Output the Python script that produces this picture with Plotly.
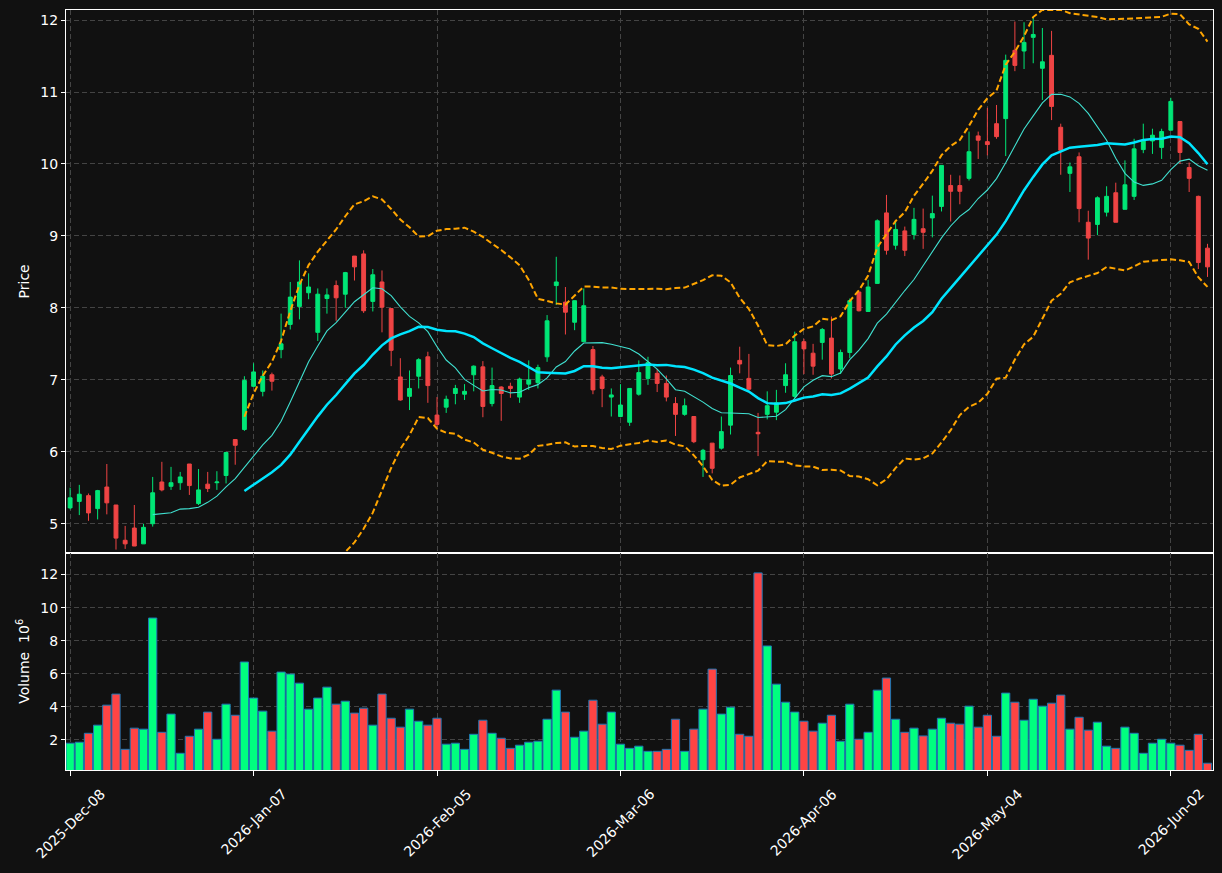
import pandas as pd
import plotly.graph_objects as go
from plotly.subplots import make_subplots

# ---------------- data ----------------
HOLIDAYS = ["2025-12-25", "2026-01-01", "2026-01-19", "2026-02-16", "2026-04-03", "2026-05-25"]
DATES = pd.bdate_range("2025-12-08", periods=125, freq="C", holidays=HOLIDAYS).strftime("%Y-%m-%d").tolist()

OPEN = [5.22, 5.31, 5.39, 5.21, 5.51, 5.26, 4.77, 4.94, 4.72, 5.00,
        5.58, 5.52, 5.57, 5.83, 5.28, 5.55, 5.57, 5.67, 6.17, 6.31,
        6.91, 6.84, 7.07, 7.42, 7.77, 8.02, 8.21, 7.66, 8.13, 8.31,
        8.19, 8.72, 8.75, 8.09, 8.36, 7.99, 7.04, 6.77, 7.05, 7.32,
        6.51, 6.62, 6.81, 6.80, 7.07, 7.18, 6.67, 6.90, 6.91, 6.76,
        6.94, 6.96, 7.32, 8.31, 8.08, 7.80, 7.53, 7.42, 7.04, 6.76,
        6.49, 6.41, 6.80, 7.02, 7.09, 6.95, 6.67, 6.52, 6.49, 5.89,
        6.12, 6.05, 6.37, 7.27, 7.02, 6.27, 6.52, 6.55, 6.92, 6.77,
        7.53, 7.37, 7.52, 7.58, 7.15, 7.38, 8.22, 7.95, 8.34, 9.32,
        8.87, 9.07, 9.02, 9.10, 9.25, 9.41, 9.70, 9.70, 9.80, 10.39,
        10.31, 10.56, 10.63, 11.58, 11.57, 11.76, 11.33, 11.51, 10.51, 9.87,
        10.10, 9.19, 9.16, 9.33, 9.60, 9.37, 9.55, 10.20, 10.32, 10.23,
        10.47, 10.59, 9.95, 9.55, 8.83]
HIGH = [5.50, 5.54, 5.42, 5.47, 5.83, 5.26, 4.97, 5.26, 5.00, 5.65,
        5.86, 5.79, 5.72, 5.83, 5.76, 5.72, 5.73, 6.00, 6.17, 7.05,
        7.23, 7.13, 7.10, 7.92, 8.36, 8.66, 8.48, 8.27, 8.27, 8.38,
        8.50, 8.72, 8.80, 8.54, 8.52, 7.99, 7.30, 7.13, 7.30, 7.39,
        6.76, 6.78, 6.93, 6.94, 7.20, 7.26, 7.17, 6.91, 6.96, 7.03,
        7.27, 7.21, 7.90, 8.71, 8.29, 8.10, 8.27, 7.47, 7.07, 6.88,
        6.94, 6.88, 7.27, 7.32, 7.15, 7.06, 6.76, 6.74, 6.49, 6.04,
        6.12, 6.49, 7.17, 7.46, 7.36, 6.54, 6.84, 6.86, 7.23, 7.67,
        7.57, 7.50, 7.72, 7.88, 7.42, 8.13, 8.22, 8.39, 9.23, 9.57,
        9.22, 9.13, 9.39, 9.38, 9.56, 9.98, 9.85, 9.84, 10.45, 10.45,
        10.78, 10.82, 11.52, 11.98, 11.97, 12.05, 11.89, 11.85, 10.56, 10.02,
        10.16, 9.35, 9.55, 9.69, 9.74, 10.05, 10.35, 10.56, 10.49, 10.49,
        10.92, 10.59, 10.02, 9.56, 8.89]
LOW = [5.20, 5.12, 5.04, 5.06, 5.13, 4.64, 4.65, 4.69, 4.72, 4.96,
       5.45, 5.47, 5.47, 5.40, 5.26, 5.44, 5.47, 5.56, 5.82, 6.29,
       6.90, 6.77, 6.85, 7.30, 7.70, 7.84, 8.12, 7.54, 7.92, 7.82,
       8.00, 8.38, 7.93, 7.95, 7.66, 7.19, 6.71, 6.58, 6.88, 6.68,
       6.34, 6.54, 6.66, 6.72, 6.84, 6.48, 6.63, 6.43, 6.75, 6.68,
       6.86, 6.88, 7.25, 8.04, 7.63, 7.69, 7.53, 6.80, 6.62, 6.49,
       6.48, 6.36, 6.78, 6.93, 6.83, 6.70, 6.22, 6.50, 6.12, 5.65,
       5.70, 6.03, 6.24, 7.09, 6.85, 5.94, 6.45, 6.44, 6.82, 6.75,
       7.08, 7.07, 7.28, 7.02, 7.08, 7.30, 7.95, 7.95, 8.34, 8.74,
       8.81, 8.72, 8.95, 8.82, 8.98, 9.34, 9.20, 9.44, 9.77, 10.07,
       10.12, 10.35, 10.11, 11.29, 11.32, 11.40, 10.89, 10.61, 9.85, 9.61,
       9.19, 8.67, 9.01, 9.27, 9.19, 9.37, 9.50, 10.15, 10.14, 10.07,
       10.47, 10.00, 9.61, 8.54, 8.43]
CLOSE = [5.36, 5.41, 5.15, 5.46, 5.29, 4.80, 4.72, 4.69, 4.95, 5.43,
         5.47, 5.57, 5.65, 5.53, 5.47, 5.49, 5.58, 5.99, 6.09, 6.99,
         7.11, 7.05, 6.98, 7.50, 8.15, 8.36, 8.29, 8.19, 8.18, 8.14,
         8.49, 8.57, 7.96, 8.46, 8.01, 7.41, 6.72, 6.88, 7.28, 6.92,
         6.38, 6.73, 6.88, 6.84, 7.19, 6.63, 6.92, 6.81, 6.88, 7.01,
         7.00, 7.17, 7.82, 8.36, 7.94, 8.10, 8.03, 6.86, 6.88, 6.79,
         6.65, 6.88, 7.10, 7.24, 6.95, 6.76, 6.52, 6.64, 6.14, 6.02,
         5.77, 6.28, 7.06, 7.22, 6.87, 6.25, 6.64, 6.68, 7.07, 7.53,
         7.43, 7.19, 7.70, 7.08, 7.38, 8.10, 7.96, 8.29, 9.21, 8.80,
         9.09, 8.80, 9.23, 9.05, 9.31, 9.98, 9.62, 9.62, 10.17, 10.33,
         10.27, 10.38, 11.44, 11.37, 11.69, 11.80, 11.42, 10.80, 10.19, 9.96,
         9.38, 8.97, 9.53, 9.55, 9.19, 9.71, 10.21, 10.33, 10.40, 10.45,
         10.87, 10.16, 9.80, 8.63, 8.57]
VOLUME = [1.80, 1.86, 2.40, 2.89, 4.10, 4.77, 1.43, 2.71, 2.65, 9.37,
          2.46, 3.56, 1.19, 2.22, 2.65, 3.68, 2.04, 4.16, 3.49, 6.71,
          4.53, 3.74, 2.53, 6.10, 5.98, 5.43, 3.86, 4.53, 5.19, 4.16,
          4.34, 3.62, 3.92, 2.89, 4.77, 3.31, 2.77, 3.86, 3.13, 2.89,
          3.31, 1.74, 1.80, 1.43, 2.34, 3.19, 2.40, 2.10, 1.49, 1.68,
          1.86, 1.92, 3.25, 5.01, 3.68, 2.16, 2.53, 4.40, 2.95, 3.68,
          1.74, 1.49, 1.62, 1.31, 1.31, 1.43, 3.25, 1.31, 2.65, 3.86,
          6.28, 3.56, 3.98, 2.34, 2.22, 12.10, 7.68, 5.37, 4.28, 3.68,
          3.13, 2.53, 3.01, 3.49, 1.92, 4.16, 2.04, 2.46, 5.01, 5.74,
          3.25, 2.46, 2.71, 2.24, 2.65, 3.31, 3.01, 2.95, 4.04, 2.77,
          3.49, 2.22, 4.83, 4.28, 3.19, 4.46, 4.04, 4.22, 4.71, 2.65,
          3.37, 2.59, 3.07, 1.62, 1.49, 2.77, 2.40, 1.19, 1.80, 2.04,
          1.80, 1.68, 1.37, 2.34, 0.59]

TICK_DATES = ["2025-12-08", "2026-01-07", "2026-02-05", "2026-03-06", "2026-04-06", "2026-05-04", "2026-06-02"]
TICK_LABELS = ["2025-Dec-08", "2026-Jan-07", "2026-Feb-05", "2026-Mar-06", "2026-Apr-06", "2026-May-04", "2026-Jun-02"]
PRICE_TICKS = [5, 6, 7, 8, 9, 10, 11, 12]
VOL_TICKS = [2, 4, 6, 8, 10, 12]

# ---------------- derived indicators ----------------
close_s = pd.Series(CLOSE)
ma10 = close_s.rolling(10).mean()
ma20 = close_s.rolling(20).mean()
std20 = close_s.rolling(20).std()
upper = ma20 + 2 * std20
lower = ma20 - 2 * std20

# ---------------- styles ----------------
BG = "#111111"
GRID = "#444444"
UP_C = "#00E676"
DN_C = "#EF4444"
VUP_C = "#00FF7F"
VDN_C = "#FF4444"
FONT = "DejaVu Sans"

fig = make_subplots(rows=2, cols=1, shared_xaxes=True, vertical_spacing=0,
                    row_heights=[542, 217])

fig.add_trace(go.Candlestick(
    x=DATES, open=OPEN, high=HIGH, low=LOW, close=CLOSE,
    increasing=dict(line=dict(color=UP_C, width=1), fillcolor=UP_C),
    decreasing=dict(line=dict(color=DN_C, width=1), fillcolor=DN_C),
    whiskerwidth=0, showlegend=False), row=1, col=1)

fig.add_trace(go.Scatter(x=DATES, y=ma10, mode="lines",
                         line=dict(color="#40E0D0", width=1.1), showlegend=False), row=1, col=1)
fig.add_trace(go.Scatter(x=DATES, y=ma20, mode="lines",
                         line=dict(color="#00E5FF", width=2.5), showlegend=False), row=1, col=1)
fig.add_trace(go.Scatter(x=DATES, y=upper, mode="lines",
                         line=dict(color="#FFA500", width=2, dash="6px,3px"), showlegend=False), row=1, col=1)
fig.add_trace(go.Scatter(x=DATES, y=lower, mode="lines",
                         line=dict(color="#FFA500", width=2, dash="6px,3px"), showlegend=False), row=1, col=1)

vol_colors = [VUP_C if c >= o else VDN_C for o, c in zip(OPEN, CLOSE)]
fig.add_trace(go.Bar(x=DATES, y=VOLUME, marker=dict(color=vol_colors, line=dict(color="#1f77b4", width=1)),
                     showlegend=False), row=2, col=1)

xcommon = dict(type="category", range=[-0.45, 124.6], tickmode="array", tickvals=TICK_DATES,
               showticklabels=False, showgrid=True, gridcolor=GRID, griddash="5px,3px", gridwidth=1,
               showline=True, mirror=True, linecolor="white", linewidth=1, zeroline=False)
fig.update_xaxes(**xcommon, ticks="", rangeslider_visible=False, row=1, col=1)
fig.update_xaxes(**xcommon, ticks="outside", ticklen=5, tickcolor="white", row=2, col=1)

ycommon = dict(showgrid=True, gridcolor=GRID, griddash="5px,3px", gridwidth=1, showline=True, mirror=True,
               linecolor="white", linewidth=1, ticks="outside", ticklen=4, tickcolor="white",
               zeroline=False, tickfont=dict(color="white", size=14, family=FONT),
               title_font=dict(color="white", size=14, family=FONT), title_standoff=7)
fig.update_yaxes(**ycommon, range=[4.597, 12.14], tickmode="array", tickvals=PRICE_TICKS,
                 title_text="Price", row=1, col=1)
fig.update_yaxes(**ycommon, range=[0.18, 13.32], tickmode="array", tickvals=VOL_TICKS,
                 title_text="Volume  10<sup>6</sup>", row=2, col=1)

for d, lab in zip(TICK_DATES, TICK_LABELS):
    fig.add_annotation(x=d, xref="x2", y=0, yref="paper", text=lab, showarrow=False,
                       textangle=-45, xanchor="center", yanchor="top", yshift=-13,
                       font=dict(color="white", size=14, family=FONT))

fig.update_layout(width=1222, height=873, paper_bgcolor=BG, plot_bgcolor=BG,
                  margin=dict(l=66, r=9, t=10, b=103), boxgap=0.4, bargap=0.1,
                  font=dict(family=FONT, color="white", size=14), showlegend=False)

fig.write_html("out.html")
